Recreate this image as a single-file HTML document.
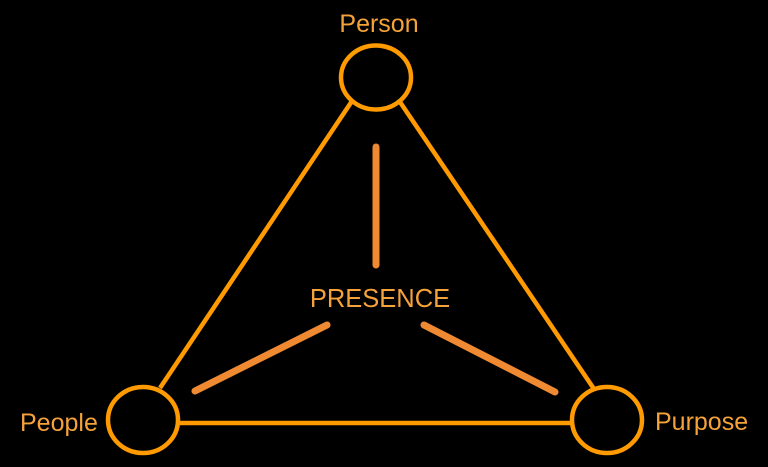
<!DOCTYPE html>
<html><head><meta charset="utf-8"><style>
html,body{margin:0;padding:0;background:#000;width:768px;height:467px;overflow:hidden}
svg{display:block}
text{font-family:"Liberation Sans",sans-serif;fill:#f5a23a}
</style></head><body>
<svg width="768" height="467" viewBox="0 0 768 467" xmlns="http://www.w3.org/2000/svg">
<rect width="768" height="467" fill="#000"/>
<g stroke="#ff9a00" stroke-width="4.5" fill="none">
<line x1="352" y1="101" x2="160" y2="388"/>
<line x1="400" y1="102" x2="594" y2="389"/>
<line x1="179" y1="423" x2="572" y2="423"/>
<ellipse cx="376" cy="77.5" rx="35" ry="32"/>
<ellipse cx="143" cy="420" rx="35" ry="33"/>
<ellipse cx="607" cy="420" rx="35" ry="33"/>
</g>
<g stroke="#f08a32" stroke-width="7" stroke-linecap="round">
<line x1="376" y1="147" x2="376" y2="265"/>
<line x1="195" y1="391" x2="327" y2="325"/>
<line x1="424" y1="325" x2="555" y2="392"/>
</g>
<text x="379" y="32" font-size="25" text-anchor="middle">Person</text>
<text x="380" y="307" font-size="25.5" text-anchor="middle">PRESENCE</text>
<text x="20" y="431" font-size="25">People</text>
<text x="655" y="430" font-size="25">Purpose</text>
</svg>
</body></html>
